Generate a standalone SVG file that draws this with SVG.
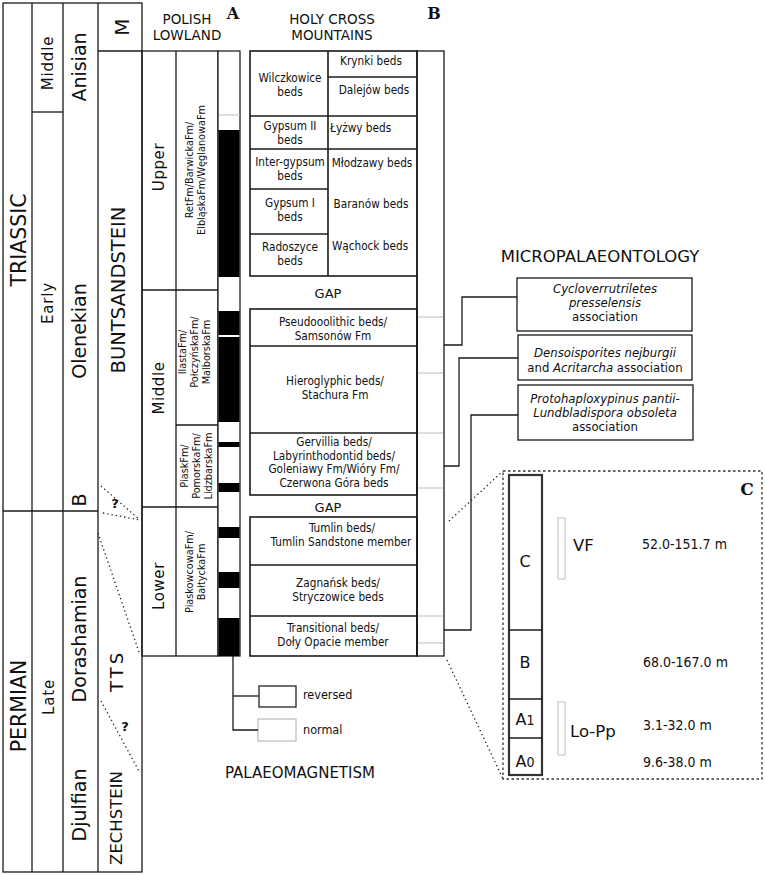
<svg xmlns="http://www.w3.org/2000/svg" width="765" height="875" viewBox="0 0 765 875">
<style>
text{font-family:"DejaVu Sans",sans-serif;fill:#111}
.c{font-family:"DejaVu Sans Condensed","DejaVu Sans",sans-serif;font-stretch:condensed}
.m{text-anchor:middle}
.h{font-size:13.5px;text-anchor:middle}
.b{font-size:11.7px;text-anchor:middle}
.f{font-size:10.8px;text-anchor:middle}
.it{font-style:italic}
.ln{stroke:#1a1a1a;stroke-width:1.3;fill:none}
.thk{stroke:#1a1a1a;stroke-width:1.6;fill:none}
.gr{stroke:#bdbdbd;stroke-width:1;fill:none}
.dot{stroke:#222;stroke-width:1.3;stroke-dasharray:1.3 3;fill:none}
.lbl{font-family:"DejaVu Serif",serif;font-weight:bold;text-anchor:middle}
.blk{fill:#000}
</style>

<g id="chronostratigraphy">
  <rect class="ln" x="3" y="3" width="139" height="869"/>
  <line class="ln" x1="32" y1="3" x2="32" y2="872"/>
  <line class="ln" x1="63" y1="3" x2="63" y2="872" stroke-width="2"/>
  <line class="ln" x1="98" y1="3" x2="98" y2="872"/>
  <line class="ln" x1="32" y1="112" x2="63" y2="112"/>
  <line class="ln" x1="3" y1="511" x2="98" y2="511"/>
  <line class="ln" x1="98" y1="51" x2="142" y2="51"/>
  <text class="m" font-size="20.5" transform="translate(26,240) rotate(-90)">TRIASSIC</text>
  <text class="m" font-size="20.5" transform="translate(26,706) rotate(-90)">PERMIAN</text>
  <text class="m" font-size="15" letter-spacing="0.8" transform="translate(53,63) rotate(-90)">Middle</text>
  <text class="m" font-size="15" letter-spacing="0.8" transform="translate(53,303) rotate(-90)">Early</text>
  <text class="m" font-size="15" letter-spacing="0.8" transform="translate(54,697) rotate(-90)">Late</text>
  <text class="m" font-size="19" transform="translate(86,67) rotate(-90)">Anisian</text>
  <text class="m" font-size="19" transform="translate(86,331) rotate(-90)">Olenekian</text>
  <text class="m" font-size="19" transform="translate(86,500) rotate(-90)">B</text>
  <text class="m" font-size="19" transform="translate(86,639) rotate(-90)">Dorashamian</text>
  <text class="m" font-size="19" transform="translate(86,805) rotate(-90)">Djulfian</text>
  <text class="m" font-size="20" transform="translate(129,27) rotate(-90)">M</text>
  <text class="m" font-size="19.5" transform="translate(125,290) rotate(-90)">BUNTSANDSTEIN</text>
  <text class="m" font-size="18" letter-spacing="3" transform="translate(123,671) rotate(-90)">TTS</text>
  <text class="m" font-size="16.5" transform="translate(122,818) rotate(-90)">ZECHSTEIN</text>
  <text class="m" font-size="13" font-weight="bold" x="115" y="508">?</text>
  <text class="m" font-size="13" font-weight="bold" x="125" y="731">?</text>
</g>

<g id="polish-lowland">
  <text class="h" x="187" y="24">POLISH</text>
  <text class="h" x="187" y="40">LOWLAND</text>
  <text class="lbl" font-size="16" x="233" y="19">A</text>
  <rect class="ln" x="142" y="51" width="76" height="605"/>
  <line class="ln" x1="176" y1="51" x2="176" y2="656"/>
  <line class="ln" x1="142" y1="290" x2="218" y2="290"/>
  <line class="ln" x1="176" y1="425" x2="218" y2="425"/>
  <line class="ln" x1="142" y1="507" x2="218" y2="507"/>
  <text class="m" font-size="15" letter-spacing="0.6" transform="translate(164,167) rotate(-90)">Upper</text>
  <text class="m" font-size="15" letter-spacing="0.6" transform="translate(164,388) rotate(-90)">Middle</text>
  <text class="m" font-size="15" letter-spacing="0.6" transform="translate(164,586) rotate(-90)">Lower</text>
  <text class="c f" transform="translate(193,170) rotate(-90)">RetFm/BarwickaFm/</text>
  <text class="c f" transform="translate(205,170) rotate(-90)">ElbląskaFm/WęglanowaFm</text>
  <text class="c f" transform="translate(186,352) rotate(-90)">IlastaFm/</text>
  <text class="c f" transform="translate(198,352) rotate(-90)">PołczyńskaFm/</text>
  <text class="c f" transform="translate(210,352) rotate(-90)">MalborskaFm</text>
  <text class="c f" transform="translate(188,466) rotate(-90)">PiaskFm/</text>
  <text class="c f" transform="translate(200,466) rotate(-90)">PomorskaFm/</text>
  <text class="c f" transform="translate(212,466) rotate(-90)">LidzbarskaFm</text>
  <text class="c f" transform="translate(193,572) rotate(-90)">PiaskowcowaFm/</text>
  <text class="c f" transform="translate(205,572) rotate(-90)">BałtyckaFm</text>
</g>

<g id="magnetostratigraphy">
  <rect fill="#fff" stroke="#222" stroke-width="1.3" x="218" y="51" width="22" height="605"/>
  <line class="gr" x1="219" y1="115" x2="240" y2="115"/>
  <rect class="blk" x="218.5" y="130" width="21" height="147"/>
  <rect class="blk" x="218.5" y="311" width="21" height="24"/>
  <rect class="blk" x="218.5" y="337" width="21" height="85"/>
  <rect class="blk" x="218.5" y="442" width="21" height="5"/>
  <rect class="blk" x="218.5" y="483" width="21" height="9"/>
  <rect class="blk" x="218.5" y="527" width="21" height="11"/>
  <rect class="blk" x="218.5" y="572" width="21" height="16"/>
  <rect class="blk" x="218.5" y="618" width="21" height="38"/>
</g>

<g id="holy-cross">
  <text class="h" x="332" y="24">HOLY CROSS</text>
  <text class="h" x="332" y="40">MOUNTAINS</text>
  <text class="lbl" font-size="16" x="434" y="19">B</text>
  <rect class="thk" x="250" y="51" width="167" height="225"/>
  <line class="thk" x1="328" y1="51" x2="328" y2="276"/>
  <line class="thk" x1="328" y1="77" x2="417" y2="77"/>
  <line class="thk" x1="250" y1="116" x2="417" y2="116"/>
  <line class="thk" x1="250" y1="149" x2="417" y2="149"/>
  <line class="thk" x1="250" y1="189" x2="328" y2="189"/>
  <line class="thk" x1="250" y1="234" x2="328" y2="234"/>
  <line class="thk" x1="417" y1="276" x2="417" y2="656"/>
  <rect class="thk" x="250" y="309" width="167" height="186"/>
  <line class="thk" x1="250" y1="346" x2="417" y2="346"/>
  <line class="thk" x1="250" y1="433" x2="417" y2="433"/>
  <rect class="thk" x="250" y="517" width="167" height="139"/>
  <line class="thk" x1="250" y1="565" x2="417" y2="565"/>
  <line class="thk" x1="250" y1="616" x2="417" y2="616"/>
  <rect class="ln" x="417" y="51" width="27" height="605"/>
  <g class="gr">
    <line x1="418" y1="317" x2="443" y2="317"/>
    <line x1="418" y1="373" x2="443" y2="373"/>
    <line x1="418" y1="433" x2="443" y2="433"/>
    <line x1="418" y1="488" x2="443" y2="488"/>
    <line x1="418" y1="616" x2="443" y2="616"/>
    <line x1="418" y1="643" x2="443" y2="643"/>
  </g>
  <text class="c b" x="371" y="65">Krynki beds</text>
  <text class="c b" x="374" y="94">Dalejów beds</text>
  <text class="c b" x="290" y="82">Wilczkowice</text>
  <text class="c b" x="290" y="96">beds</text>
  <text class="c b" x="290" y="130">Gypsum II</text>
  <text class="c b" x="290" y="144">beds</text>
  <text class="c" font-size="11.7" x="330" y="132">Łyżwy beds</text>
  <text class="c b" x="290" y="166">Inter-gypsum</text>
  <text class="c b" x="290" y="180">beds</text>
  <text class="c b" x="372" y="167">Młodzawy beds</text>
  <text class="c b" x="290" y="207">Gypsum I</text>
  <text class="c b" x="290" y="221">beds</text>
  <text class="c b" x="371" y="208">Baranów beds</text>
  <text class="c b" x="290" y="251">Radoszyce</text>
  <text class="c b" x="290" y="265">beds</text>
  <text class="c b" x="370" y="250">Wąchock beds</text>
  <text class="m" font-size="13" x="328" y="298">GAP</text>
  <text class="c b" x="333" y="326">Pseudooolithic beds/</text>
  <text class="c b" x="333" y="340">Samsonów Fm</text>
  <text class="c b" x="335" y="385">Hieroglyphic beds/</text>
  <text class="c b" x="335" y="399">Stachura Fm</text>
  <text class="c b" x="334" y="446">Gervillia beds/</text>
  <text class="c b" x="334" y="459.5">Labyrinthodontid beds/</text>
  <text class="c b" x="334" y="473">Goleniawy Fm/Wióry Fm/</text>
  <text class="c b" x="334" y="486.5">Czerwona Góra beds</text>
  <text class="m" font-size="13" x="328" y="512">GAP</text>
  <text class="c b" x="342" y="532">Tumlin beds/</text>
  <text class="c b" x="341" y="546">Tumlin Sandstone member</text>
  <text class="c b" x="338" y="587">Zagnańsk beds/</text>
  <text class="c b" x="338" y="601">Stryczowice beds</text>
  <text class="c b" x="333" y="632">Transitional beds/</text>
  <text class="c b" x="333" y="646">Doły Opacie member</text>
</g>

<g id="micropalaeontology">
  <text class="m" font-size="16.5" x="600" y="262">MICROPALAEONTOLOGY</text>
  <g id="assoc-1">
    <rect class="ln" x="517" y="278" width="175" height="53"/>
    <text class="c m it" font-size="13" x="605" y="293">Cycloverrutriletes</text>
    <text class="c m it" font-size="13" x="605" y="307">presselensis</text>
    <text class="c m" font-size="13" x="605" y="321">association</text>
  </g>
  <g id="assoc-2">
    <rect class="ln" x="518" y="335" width="174" height="45"/>
    <text class="c m it" font-size="13" x="605" y="357">Densoisporites nejburgii</text>
    <text class="c m" font-size="13" x="605" y="372">and <tspan font-style="italic">Acritarcha</tspan> association</text>
  </g>
  <g id="assoc-3">
    <rect class="ln" x="518" y="385" width="175" height="55"/>
    <text class="c m it" font-size="13" x="605" y="403">Protohaploxypinus pantii-</text>
    <text class="c m it" font-size="13" x="605" y="417">Lundbladispora obsoleta</text>
    <text class="c m" font-size="13" x="605" y="431">association</text>
  </g>
</g>

<g id="palaeomagnetism-legend">
  <rect fill="#fff" stroke="#222" stroke-width="1.3" x="259" y="686" width="37" height="21"/>
  <text class="c" font-size="12.5" x="303" y="699">reversed</text>
  <rect fill="#fff" stroke="#bbb" stroke-width="1.2" x="258" y="719" width="38" height="22"/>
  <text class="c" font-size="12.5" x="303" y="734">normal</text>
  <text font-size="15" x="225" y="778">PALAEOMAGNETISM</text>
</g>

<g id="detail-c">
  <rect fill="none" stroke="#333" stroke-width="1.3" stroke-dasharray="2.5 2.5" x="503" y="471" width="259" height="308"/>
  <text class="lbl" font-size="17" x="747" y="495">C</text>
  <rect fill="#fff" stroke="#333" stroke-width="2.2" x="509" y="475" width="33" height="300"/>
  <line class="ln" x1="509" y1="630" x2="542" y2="630"/>
  <line class="ln" x1="509" y1="699" x2="542" y2="699"/>
  <line class="ln" x1="509" y1="738" x2="542" y2="738"/>
  <text class="m" font-size="16" x="525" y="567">C</text>
  <text class="m" font-size="16" x="525" y="668">B</text>
  <text class="m" font-size="16" x="525" y="725">A<tspan class="c" font-size="14">1</tspan></text>
  <text class="m" font-size="16" x="525" y="767">A<tspan class="c" font-size="14">0</tspan></text>
  <rect class="gr" x="558" y="518" width="7" height="61"/>
  <rect class="gr" x="558" y="702" width="7" height="53"/>
  <text font-size="16.5" x="573" y="551">VF</text>
  <text font-size="16.5" x="570" y="737">Lo-Pp</text>
  <text class="c" font-size="14" x="642" y="549">52.0-151.7 m</text>
  <text class="c" font-size="14" x="643" y="667">68.0-167.0 m</text>
  <text class="c" font-size="14" x="643" y="730">3.1-32.0 m</text>
  <text class="c" font-size="14" x="643" y="767">9.6-38.0 m</text>
</g>

<g id="connectors">
  <polyline class="ln" points="444,345 462,345 462,297 517,297"/>
  <polyline class="ln" points="444,466 459,466 459,358 518,358"/>
  <polyline class="ln" points="444,630 471,630 471,415 518,415"/>
  <polyline class="ln" points="233,656 233,730 258,730"/>
  <line class="ln" x1="233" y1="696" x2="259" y2="696"/>
  <line class="dot" x1="449" y1="521" x2="503" y2="471"/>
  <line class="dot" x1="447" y1="660" x2="503" y2="779"/>
  <line class="dot" x1="98" y1="533" x2="140" y2="655"/>
  <line class="dot" x1="101" y1="486" x2="140" y2="520"/>
  <line class="dot" x1="103" y1="513" x2="140" y2="520"/>
  <line class="dot" x1="101" y1="701" x2="140" y2="773"/>
</g>
</svg>
